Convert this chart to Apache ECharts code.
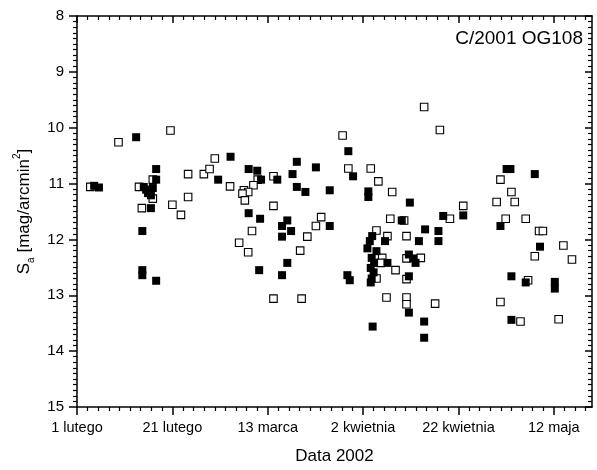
<!DOCTYPE html>
<html>
<head>
<meta charset="utf-8">
<script src="https://cdn.jsdelivr.net/npm/echarts@6/dist/echarts.min.js"></script>
<style>
  html, body { margin: 0; padding: 0; background: #fff; }
  #chart { width: 597px; height: 470px; }
</style>
</head>
<body>
<div id="chart"></div>
<script>
// Days counted from 1 February 2002; brightness in mag/arcmin^2
const xTickValues = [0, 20, 40, 60, 80, 100];
const xTickLabels = ['1 lutego', '21 lutego', '13 marca', '2 kwietnia', '22 kwietnia', '12 maja'];

// Filled squares
const filledPoints = [
  [3.6, 11.04], [4.6, 11.07],
  [12.4, 10.17],
  [16.6, 10.74], [16.6, 10.93],
  [14.0, 11.06], [14.9, 11.17], [15.5, 11.21], [15.9, 11.08], [14.5, 11.11],
  [15.5, 11.44],
  [13.7, 11.85], [13.7, 12.55], [13.7, 12.64], [16.6, 12.74],
  [32.2, 10.52], [29.6, 10.93], [36.0, 10.74], [37.8, 10.77], [38.6, 10.93],
  [36.0, 11.53], [38.4, 11.63], [38.2, 12.55],
  [46.1, 10.61], [50.1, 10.71], [45.2, 10.83], [42.0, 10.93], [46.1, 11.06], [47.9, 11.15], [53.0, 11.12],
  [44.1, 11.66], [43.0, 11.76], [44.9, 11.85], [43.0, 11.95], [53.0, 11.76],
  [44.1, 12.42], [43.0, 12.64], [56.7, 12.64], [57.2, 12.73],
  [56.9, 10.42], [57.9, 10.87], [61.1, 11.14], [61.1, 11.24], [69.8, 11.34], [68.1, 11.66],
  [61.9, 11.94], [64.6, 12.03],
  [61.4, 12.03], [60.9, 12.16], [62.8, 12.21], [61.8, 12.33], [62.3, 12.42], [61.6, 12.51],
  [62.2, 12.59], [61.8, 12.70], [61.6, 12.77],
  [65.1, 12.42], [69.6, 12.27], [69.6, 12.66], [69.6, 13.31], [62.0, 13.56],
  [76.8, 11.58], [81.0, 11.57], [73.0, 11.82], [75.8, 11.85], [71.7, 12.03], [75.8, 12.03],
  [70.5, 12.34], [71.0, 12.42],
  [72.8, 13.47], [72.8, 13.76],
  [90.1, 10.74], [90.9, 10.74], [96.0, 10.83], [88.8, 11.76], [97.1, 12.13], [91.1, 12.66],
  [94.1, 12.77], [100.2, 12.76], [100.2, 12.88], [91.1, 13.44]
];

// Open squares
const openPoints = [
  [2.8, 11.06],
  [8.7, 10.26], [19.6, 10.05], [15.9, 10.93], [13.0, 11.06], [15.9, 11.27], [13.6, 11.44], [20.0, 11.38],
  [28.9, 10.55], [23.3, 10.83], [26.6, 10.83], [27.8, 10.74], [32.1, 11.05], [37.9, 10.93], [37.0, 11.03],
  [35.0, 11.12], [35.9, 11.15], [34.7, 11.18], [35.2, 11.30], [23.3, 11.24], [21.8, 11.56], [36.7, 11.85],
  [34.0, 12.06], [35.9, 12.23],
  [55.7, 10.14], [56.9, 10.73], [41.2, 10.87], [41.2, 11.40], [51.2, 11.60], [50.1, 11.76], [48.3, 11.95],
  [46.8, 12.20], [41.2, 13.06], [47.1, 13.06],
  [61.6, 10.73], [63.2, 10.96], [66.1, 11.15], [65.7, 11.63], [62.8, 11.84], [65.1, 11.94], [69.1, 11.94],
  [64.0, 12.33], [63.7, 12.42], [66.8, 12.55], [62.8, 12.70], [64.9, 13.04], [69.1, 12.34], [69.1, 12.71],
  [69.1, 13.04], [69.1, 13.16], [68.6, 11.66],
  [72.8, 9.63], [76.1, 10.04], [78.2, 11.63], [81.0, 11.40], [72.1, 12.33], [75.1, 13.15],
  [88.8, 10.93], [91.1, 11.15], [88.0, 11.33], [91.8, 11.33], [89.9, 11.63], [94.1, 11.63], [96.9, 11.85],
  [97.7, 11.85], [102.0, 12.11], [96.0, 12.30], [103.8, 12.36], [94.6, 12.73], [88.8, 13.12], [93.0, 13.47],
  [101.0, 13.43]
];

const X_MIN = 0, X_MAX = 108;
const Y_MIN = 8, Y_MAX = 15;

// Minor ticks: nine steps between labelled dates
const xMinorValues = [];
for (let k = 1; k * 20 / 9 < X_MAX; k++) {
  if (k % 9 !== 0) xMinorValues.push(k * 20 / 9);
}

const FONT = '"Liberation Sans", Arial, sans-serif';

function xAxisBase(pos, showLine) {
  return {
    type: 'value', position: pos, min: X_MIN, max: X_MAX, gridIndex: 0,
    axisLine: { show: showLine, onZero: false, lineStyle: { color: '#000', width: 1.5 } },
    splitLine: { show: false },
    axisLabel: { show: false },
    axisPointer: { show: false }
  };
}

const chart = echarts.init(document.getElementById('chart'), null, { renderer: 'canvas' });

chart.setOption({
  animation: false,
  backgroundColor: '#fff',
  textStyle: { fontFamily: FONT },
  grid: { left: 77, right: 5, top: 16, bottom: 61, containLabel: false },
  title: {
    text: 'C/2001 OG108', right: 14, top: 29, padding: 0,
    textStyle: { fontFamily: FONT, fontSize: 19, fontWeight: 'normal', color: '#000' }
  },
  xAxis: [
    Object.assign(xAxisBase('bottom', true), {
      name: 'Data 2002', nameLocation: 'middle', nameGap: 41,
      nameTextStyle: { fontFamily: FONT, fontSize: 17, color: '#000' },
      axisTick: { show: true, inside: false, length: 8, customValues: xTickValues, lineStyle: { color: '#000', width: 1.5 } },
      axisLabel: {
        show: true, margin: 13, color: '#000', fontSize: 14.5, fontFamily: FONT,
        customValues: xTickValues,
        formatter: v => xTickLabels[xTickValues.indexOf(Math.round(v))] || ''
      }
    }),
    Object.assign(xAxisBase('bottom', false), {
      axisTick: { show: true, inside: false, length: 4, customValues: xMinorValues, lineStyle: { color: '#000', width: 1.2 } }
    }),
    Object.assign(xAxisBase('top', true), {
      axisTick: { show: true, inside: true, length: 7, customValues: xTickValues, lineStyle: { color: '#000', width: 1.5 } }
    }),
    Object.assign(xAxisBase('top', false), {
      axisTick: { show: true, inside: true, length: 4, customValues: xMinorValues, lineStyle: { color: '#000', width: 1.2 } }
    })
  ],
  yAxis: [
    {
      type: 'value', position: 'left', inverse: true, min: Y_MIN, max: Y_MAX, interval: 1,
      name: '{s|S}{sub|a}{s| [mag/arcmin}{sup|2}{s|]}',
      nameLocation: 'middle', nameRotate: 90, nameGap: 32,
      nameTextStyle: {
        color: '#000',
        rich: {
          s: { fontFamily: FONT, fontSize: 17, color: '#000', lineHeight: 24 },
          sub: { fontFamily: FONT, fontSize: 10, color: '#000', lineHeight: 10, verticalAlign: 'bottom' },
          sup: { fontFamily: FONT, fontSize: 10, color: '#000', lineHeight: 10, verticalAlign: 'top' }
        }
      },
      axisLine: { show: true, onZero: false, lineStyle: { color: '#000', width: 1.5 } },
      axisTick: { show: true, inside: false, length: 8, lineStyle: { color: '#000', width: 1.5 } },
      minorTick: { show: true, splitNumber: 10, length: 4, lineStyle: { color: '#000', width: 1.2 } },
      axisLabel: { color: '#000', fontSize: 15, fontFamily: FONT, margin: 13 },
      splitLine: { show: false }
    },
    {
      type: 'value', position: 'right', inverse: true, min: Y_MIN, max: Y_MAX, interval: 1,
      axisLine: { show: true, onZero: false, lineStyle: { color: '#000', width: 1.5 } },
      axisTick: { show: true, inside: true, length: 7, lineStyle: { color: '#000', width: 1.5 } },
      minorTick: { show: true, splitNumber: 10, length: 4, lineStyle: { color: '#000', width: 1.2 } },
      axisLabel: { show: false },
      splitLine: { show: false }
    }
  ],
  series: [
    {
      type: 'scatter', name: 'open', xAxisIndex: 0, yAxisIndex: 0,
      symbol: 'rect', symbolSize: 7.5, data: openPoints,
      itemStyle: { color: '#fff', borderColor: '#000', borderWidth: 1.1, opacity: 1 }
    },
    {
      type: 'scatter', name: 'filled', xAxisIndex: 0, yAxisIndex: 0,
      symbol: 'rect', symbolSize: 8, data: filledPoints,
      itemStyle: { color: '#000', opacity: 1 }
    }
  ]
});
</script>
</body>
</html>
